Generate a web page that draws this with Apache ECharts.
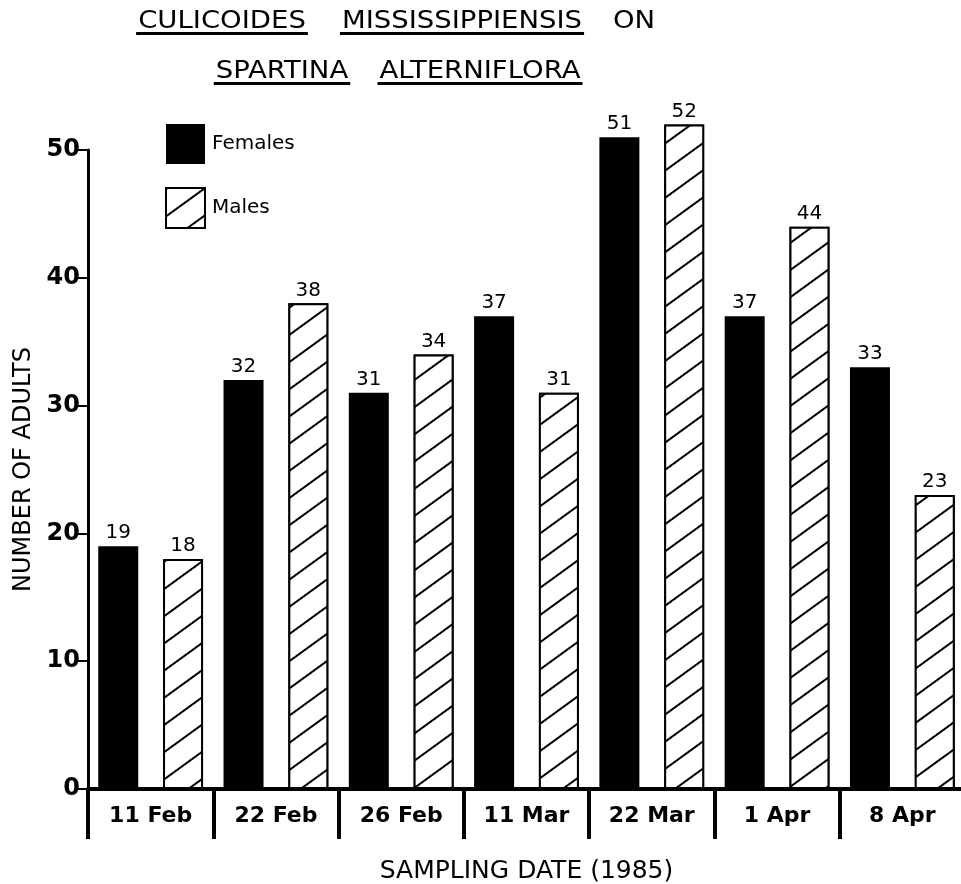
<!DOCTYPE html>
<html>
<head>
<meta charset="utf-8">
<script src="https://cdn.jsdelivr.net/npm/echarts@6/dist/echarts.min.js"></script>
<style>
html,body{margin:0;padding:0;background:#fff;}
#chart{width:961px;height:884px;}
</style>
</head>
<body>
<div id="chart"></div>
<script>
const categories = ['11 Feb', '22 Feb', '26 Feb', '11 Mar', '22 Mar', '1 Apr', '8 Apr'];
const females = [19, 32, 31, 37, 51, 37, 33];
const males = [18, 38, 34, 31, 52, 44, 23];
const yTicks = [0, 10, 20, 30, 40, 50];
const titleLine1 = ['CULICOIDES', 'MISSISSIPPIENSIS', 'ON'];
const titleLine2 = ['SPARTINA', 'ALTERNIFLORA'];

const FONT = '"DejaVu Sans", "Liberation Sans", sans-serif';
const chart = echarts.init(document.getElementById('chart'));

// measure text to size underlines
const cv = document.createElement('canvas').getContext('2d');
function tw(t, size){ cv.font = size + 'px "DejaVu Sans"'; return cv.measureText(t).width; }

const tSize = 25;
const words = [
  {t: titleLine1[0], cx: 222, cy: 21, ul: true},
  {t: titleLine1[1], cx: 462, cy: 21, ul: true},
  {t: titleLine1[2], cx: 634, cy: 21, ul: false},
  {t: titleLine2[0], cx: 282, cy: 71, ul: true},
  {t: titleLine2[1], cx: 480, cy: 71, ul: true}
];
const graphics = [];
words.forEach(w => {
  const sx = 1.1;
  const width = tw(w.t, tSize) * sx;
  graphics.push({
    type: 'text', x: w.cx, y: w.cy, scaleX: sx, originX: 0,
    style: {text: w.t, font: tSize + 'px ' + FONT, fill: '#000', textAlign: 'center', textVerticalAlign: 'middle'}
  });
  if (w.ul) {
    graphics.push({
      type: 'rect', shape: {x: w.cx - width/2 - 2, y: w.cy + 11, width: width + 4, height: 3},
      style: {fill: '#000'}
    });
  }
});

const option = {
  animation: false,
  backgroundColor: '#fff',
  graphic: graphics,
  legend: {
    data: ['Females', 'Males'],
    orient: 'vertical',
    left: 165, top: 124,
    itemWidth: 39, itemHeight: 40, itemGap: 23,
    padding: 0,
    icon: 'rect',
    textStyle: {fontFamily: FONT, fontSize: 20, color: '#000', padding: [0,0,0,2]}
  },
  grid: {left: 88, top: 150, width: 877, height: 639, containLabel: false, outerBoundsMode: 'none'},
  xAxis: {
    type: 'category',
    data: categories,
    axisLine: {lineStyle: {color: '#000', width: 4}},
    axisTick: {show: true, interval: 0, length: 50, alignWithLabel: false, lineStyle: {color: '#000', width: 4}},
    axisLabel: {interval: 0, margin: 16, fontFamily: FONT, fontSize: 22, fontWeight: 'bold', color: '#000'},
    name: 'SAMPLING DATE (1985)',
    nameLocation: 'middle',
    nameGap: 70,
    nameTextStyle: {fontFamily: FONT, fontSize: 25, color: '#000'}
  },
  yAxis: {
    type: 'value',
    min: 0, max: 50, interval: 10,
    axisLine: {show: true, lineStyle: {color: '#000', width: 3}},
    axisTick: {show: true, length: 10, lineStyle: {color: '#000', width: 2}},
    splitLine: {show: false},
    axisLabel: {margin: 8, fontFamily: FONT, fontSize: 24, fontWeight: 'bold', color: '#000',
      formatter: v => yTicks.includes(v) ? String(v) : ''},
    name: 'NUMBER OF ADULTS',
    nameLocation: 'middle',
    nameGap: 51,
    nameRotate: 90,
    nameTextStyle: {fontFamily: FONT, fontSize: 24, color: '#000'}
  },
  series: [
    {
      name: 'Females', type: 'bar', data: females,
      barWidth: 40, barGap: '62%', clip: false,
      itemStyle: {color: '#000'},
      label: {show: true, position: 'top', distance: 3, fontFamily: FONT, fontSize: 20, color: '#000'}
    },
    {
      name: 'Males', type: 'bar', data: males,
      barWidth: 40, barGap: '62%', clip: false,
      itemStyle: {
        color: '#fff', borderColor: '#000', borderWidth: 2,
        decal: {symbol: 'rect', symbolSize: 1, dashArrayX: [1, 0], dashArrayY: [2, 20], rotation: -Math.PI / 5, color: '#000', backgroundColor: '#fff'}
      },
      label: {show: true, position: 'top', distance: 3, fontFamily: FONT, fontSize: 20, color: '#000'}
    }
  ]
};
chart.setOption(option);
</script>
</body>
</html>
